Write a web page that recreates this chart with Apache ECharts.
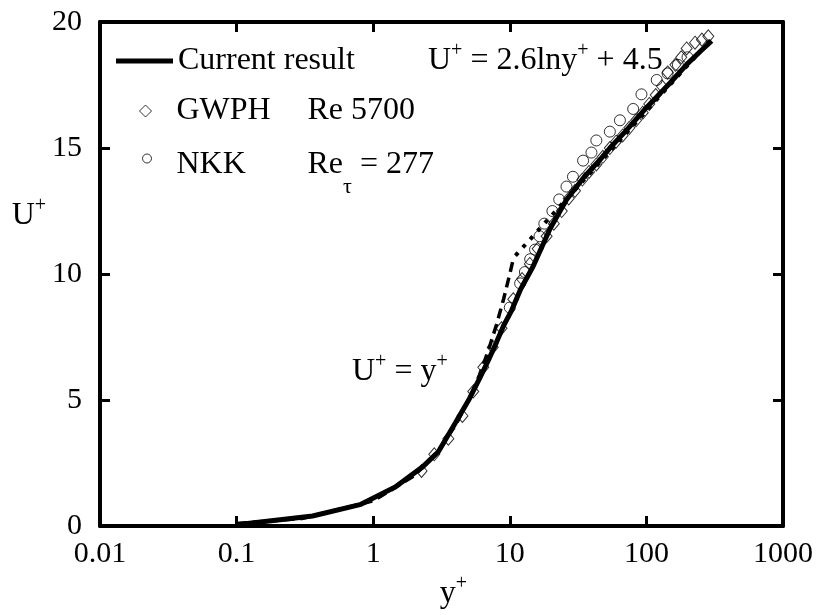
<!DOCTYPE html>
<html><head><meta charset="utf-8">
<script src="https://cdn.jsdelivr.net/npm/echarts@6/dist/echarts.min.js"></script>
<style>html,body{margin:0;padding:0;background:#fff}#c{width:821px;height:615px}</style>
</head><body><div id="c"></div>
<script>
// ---- data ----
const xTickLabels = ['0.01', '0.1', '1', '10', '100', '1000'];
const yTickLabels = ['0', '5', '10', '15', '20'];

// Current result (thick solid line)
const currentX = [0.1, 0.36, 0.8, 1.45, 2.3, 3, 4, 5, 6, 7, 8, 9, 10.3, 12, 14.8, 19.7, 26, 35, 46, 54, 70, 100, 150, 200, 250, 300];
const currentU = [0.05, 0.4, 0.85, 1.55, 2.35, 2.95, 4.1, 5.0, 5.85, 6.6, 7.3, 7.95, 8.55, 9.4, 10.3, 11.8, 12.95, 13.85, 14.55, 15.0, 15.65, 16.6, 17.6, 18.35, 18.85, 19.25];

// U+ = y+ (dashed)
const viscX = [0.1, 0.3, 1, 2, 3, 4, 5, 6, 7, 8, 9, 10, 10.6];
const viscU = [0.1, 0.3, 1, 2, 3, 4, 5, 6, 7, 8, 9, 10, 10.6];

// U+ = 2.6 ln y+ + 4.5 (dotted)
const logX = [11, 12, 14, 17, 20, 25, 30, 40, 50, 70, 100, 150, 200, 300];
const logU = [10.73, 10.96, 11.36, 11.87, 12.29, 12.87, 13.34, 14.09, 14.67, 15.55, 16.47, 17.53, 18.28, 19.33];

// GWPH Re 5700 (diamonds)
const gwphX = [2.26, 2.8, 3.55, 4.5, 5.4, 6.4, 7.5, 8.7, 10.6, 12.3, 14, 16, 18.6, 21, 24, 27, 30, 34, 38, 43, 48, 54, 60, 67, 75, 84, 94, 105, 117, 130, 143, 163, 180, 197, 227, 255, 284];
const gwphU = [2.19, 2.85, 3.47, 4.37, 5.34, 6.3, 7.1, 7.85, 9.0, 9.8, 10.4, 11.0, 11.5, 12.0, 12.5, 13.0, 13.3, 13.75, 14.05, 14.35, 14.65, 15.0, 15.25, 15.5, 15.8, 16.1, 16.4, 16.75, 17.1, 17.45, 18.0, 18.3, 18.6, 18.95, 19.18, 19.3, 19.43];

// NKK Re_tau = 277 (circles)
const nkkX = [10, 11.9, 12.9, 14.1, 15.3, 16.5, 17.9, 20.5, 23, 26, 29, 34.4, 39.6, 43, 54, 64, 80, 92, 119, 143, 170, 200];
const nkkU = [8.67, 9.63, 10.08, 10.59, 10.97, 11.5, 12.0, 12.5, 12.96, 13.47, 13.86, 14.5, 14.82, 15.3, 15.65, 16.1, 16.55, 17.13, 17.7, 17.96, 18.3, 18.6];

// ---- chart ----
function pairs(xs, ys) { return xs.map((x, i) => [x, ys[i]]); }
const FONT = 'Liberation Serif';
const richEC = {
  n: { fontFamily: FONT, fontSize: 32, lineHeight: 40, color: '#000' },
  sup: { fontFamily: FONT, fontSize: 20, lineHeight: 12, verticalAlign: 'top', color: '#000' },
  a: { fontFamily: FONT, fontSize: 32, lineHeight: 40, color: '#000', width: 131, padding: [0, 0, 0, 20] }
};
const richRow3 = {
  a: { fontFamily: FONT, fontSize: 32, lineHeight: 40, verticalAlign: 'top', color: '#000', width: 131, padding: [0, 0, 0, 20] },
  n: { fontFamily: FONT, fontSize: 32, lineHeight: 40, verticalAlign: 'top', color: '#000' },
  sub: { fontFamily: FONT, fontSize: 22, lineHeight: 20, verticalAlign: 'top', padding: [27, 0, 0, 0], color: '#000' }
};
const richZR = {
  n: { fontFamily: FONT, fontSize: 32, lineHeight: 40, fill: '#000' },
  sup: { fontFamily: FONT, fontSize: 20, lineHeight: 12, verticalAlign: 'top', fill: '#000' }
};
const axisLine = { show: true, onZero: false, lineStyle: { color: '#000', width: 4 } };
const axisTick = { show: true, inside: true, length: 10, lineStyle: { color: '#000', width: 3 } };
const xLabelFmt = v => xTickLabels[Math.round(Math.log10(v)) + 2];
const yLabelFmt = v => yTickLabels[Math.round(v / 5)];

const chart = echarts.init(document.getElementById('c'), null, { renderer: 'canvas' });
chart.setOption({
  animation: false,
  backgroundColor: '#fff',
  grid: { left: 100, right: 38, top: 22, bottom: 73, containLabel: false },
  xAxis: [
    { type: 'log', logBase: 10, min: 0.01, max: 1000, position: 'bottom',
      axisLine, axisTick, splitLine: { show: false },
      axisLabel: { fontFamily: FONT, fontSize: 30, color: '#000', margin: 13, formatter: xLabelFmt },
      name: '{n|y}{sup|+}', nameLocation: 'middle', nameGap: 33,
      nameTextStyle: { rich: richEC, padding: [0, 0, 0, 24] } },
    { type: 'log', logBase: 10, min: 0.01, max: 1000, position: 'top',
      axisLine, axisTick, splitLine: { show: false }, axisLabel: { show: false } }
  ],
  yAxis: [
    { type: 'value', min: 0, max: 20, interval: 5, position: 'left',
      axisLine, axisTick, splitLine: { show: false },
      axisLabel: { fontFamily: FONT, fontSize: 30, color: '#000', margin: 18, padding: [0, 0, 10, 0], formatter: yLabelFmt },
      name: '{n|U}{sup|+}', nameLocation: 'middle', nameRotate: 0, nameGap: 46,
      nameTextStyle: { rich: richEC, padding: [0, 0, 116, 0] } },
    { type: 'value', min: 0, max: 20, interval: 5, position: 'right',
      axisLine, axisTick, splitLine: { show: false }, axisLabel: { show: false } }
  ],
  legend: [
    { data: ['Current result'], left: 116, top: 41, padding: 0, orient: 'vertical', selectedMode: false,
      icon: 'rect', itemWidth: 57, itemHeight: 5,
      textStyle: { fontFamily: FONT, fontSize: 32, lineHeight: 40, color: '#000' } },
    { data: ['GWPH'], left: 139, top: 95, padding: 0, selectedMode: false,
      icon: 'diamond', itemWidth: 12, itemHeight: 12,
      itemStyle: { borderWidth: 1, borderColor: '#000', color: 'rgba(0,0,0,0)' },
      formatter: () => '{a|GWPH}{n|Re 5700}',
      textStyle: { fontFamily: FONT, fontSize: 32, color: '#000', rich: richEC } },
    { data: ['NKK'], left: 142, top: 149, padding: 0, selectedMode: false,
      icon: 'circle', itemWidth: 9, itemHeight: 9,
      itemStyle: { borderWidth: 1, borderColor: '#000', color: 'rgba(0,0,0,0)' },
      formatter: () => '{a|NKK}{n|Re}{sub|τ}{n| = 277}',
      textStyle: { fontFamily: FONT, fontSize: 32, color: '#000', rich: richRow3, padding: [21, 0, 0, 0] } }
  ],
  graphic: [
    { type: 'text', x: 428, y: 41, silent: true,
      style: { text: '{n|U}{sup|+}{n| = 2.6lny}{sup|+}{n| + 4.5}', rich: richZR, fontFamily: FONT, fontSize: 32, fill: '#000' } },
    { type: 'text', x: 352, y: 352, silent: true,
      style: { text: '{n|U}{sup|+}{n| = y}{sup|+}', rich: richZR, fontFamily: FONT, fontSize: 32, fill: '#000' } }
  ],
  series: [
    { type: 'scatter', name: 'GWPH', data: pairs(gwphX, gwphU), symbol: 'diamond', symbolSize: [11, 13],
      itemStyle: { color: 'rgba(0,0,0,0)', borderColor: '#000', borderWidth: 1 }, z: 2 },
    { type: 'scatter', name: 'NKK', data: pairs(nkkX, nkkU), symbol: 'circle', symbolSize: 11,
      itemStyle: { color: 'rgba(0,0,0,0)', borderColor: '#000', borderWidth: 1 }, z: 2 },
    { type: 'line', name: 'U+ = y+', data: pairs(viscX, viscU), symbol: 'none',
      lineStyle: { color: '#000', width: 3.5, type: [10, 6] }, z: 3 },
    { type: 'line', name: 'log law', data: pairs(logX, logU), symbol: 'none',
      lineStyle: { color: '#000', width: 4, type: [4, 7] }, z: 3 },
    { type: 'line', name: 'Current result', data: pairs(currentX, currentU), symbol: 'none',
      color: '#000', lineStyle: { color: '#000', width: 5 }, itemStyle: { color: '#000' }, z: 5 }
  ]
});
</script></body></html>
